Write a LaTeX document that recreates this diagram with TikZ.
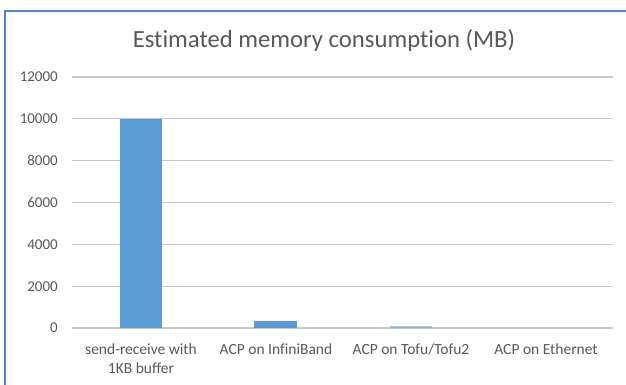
\documentclass[tikz,border=0pt]{standalone}
\usepackage{fontspec}
\setmainfont{Carlito}[Ligatures={NoCommon}]
\definecolor{barblue}{HTML}{5B9BD5}
\definecolor{gridgray}{HTML}{C8C8C8}
\definecolor{txtgray}{HTML}{595959}
\definecolor{framblue}{HTML}{5585C8}
\tikzset{
  gridline/.style={draw=gridgray, line width=1.3pt},
  bar/.style={fill=barblue, draw=none},
  ticklab/.style={anchor=east, text=txtgray, font=\fontsize{15}{18}\selectfont, inner sep=0pt},
  catlab/.style={anchor=base, text=txtgray, font=\fontsize{15.5}{19}\selectfont, align=center, inner sep=0pt},
  titlelab/.style={anchor=base, text=txtgray, font=\fontsize{24.7}{27}\selectfont, inner sep=0pt}
}
\begin{document}
\begin{tikzpicture}[x=1pt,y=-1pt]
\useasboundingbox (0,0) rectangle (626,385);
\fill[white] (0,0) rectangle (626,385);
\draw[framblue, line width=2pt] (5,386) -- (5,11) -- (627,11);
\node[titlelab] (title) at (324,48) {Estimated memory consumption (MB)};
% grid and tick labels
\foreach \v/\yy in {0/328,2000/286.2,4000/244.3,6000/202.5,8000/160.7,10000/118.8,12000/77} {
  \draw[gridline] (72,\yy) -- (613,\yy);
  \node[ticklab] (t\v) at (58,\yy) {\v};
}
% bars
\fill[bar] (119.5,327.5) rectangle (162,118.8);
\fill[bar] (254,327.5) rectangle (297,321);
\fill[bar, opacity=0.5] (390,327.5) rectangle (432,326.2);
% category labels
\node[catlab] (c1) at (141,373) {send-receive with\\1KB buffer};
\node[catlab] (c2) at (276,354) {ACP on InfiniBand};
\node[catlab] (c3) at (411,354) {ACP on Tofu/Tofu2};
\node[catlab] (c4) at (546,354) {ACP on Ethernet};
\end{tikzpicture}
\end{document}
